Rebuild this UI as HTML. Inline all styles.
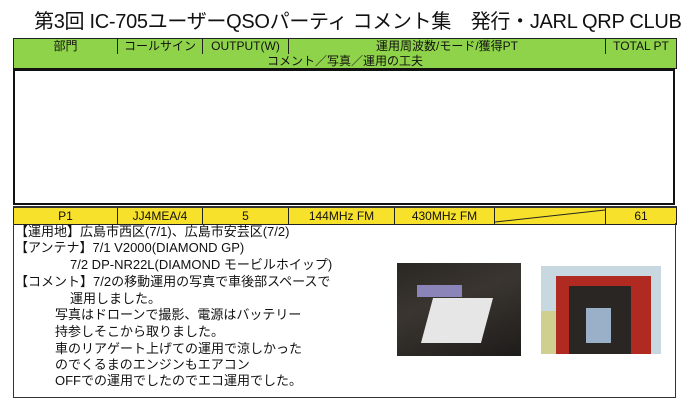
<!DOCTYPE html>
<html><head><meta charset="utf-8"><style>
body{margin:0;width:693px;height:400px;background:#fff;position:relative;overflow:hidden;font-family:"Liberation Sans","Noto Sans CJK JP",sans-serif;color:#111}
.a{position:absolute}
.t{position:absolute;white-space:nowrap;font-size:13px;line-height:16px}
.c{position:absolute;text-align:center;font-size:12px;line-height:14px;top:0}
.v{position:absolute;top:0;bottom:0;width:1px;background:#222}
</style></head><body>
<div class="t" style="left:34px;top:10px;font-size:20px;line-height:24px;letter-spacing:-0.3px">第3回 IC-705ユーザーQSOパーティ コメント集　発行・JARL QRP CLUB</div>
<div class="a" style="left:13px;top:38px;width:662px;height:15px;background:#8fd34a;border:1px solid #222">
 <div class="c" style="left:0;width:103px">部門</div><div class="v" style="left:103px"></div>
 <div class="c" style="left:104px;width:84px">コールサイン</div><div class="v" style="left:188px"></div>
 <div class="c" style="left:189px;width:85px">OUTPUT(W)</div><div class="v" style="left:274px"></div>
 <div class="c" style="left:275px;width:316px">運用周波数/モード/獲得PT</div><div class="v" style="left:591px"></div>
 <div class="c" style="left:592px;width:70px">TOTAL PT</div>
</div>
<div class="a" style="left:13px;top:54px;width:662px;height:14px;background:#8fd34a;border:1px solid #222;border-top:none">
 <div class="c" style="left:0;width:662px">コメント／写真／運用の工夫</div>
</div>
<div class="a" style="left:13px;top:68px;width:658px;height:132px;border:2px solid #111;border-top-width:3px"></div>
<div class="a" style="left:13px;top:206px;width:662px;height:16px;background:#f7e12a;border:1px solid #222;border-top:2px solid #333">
 <div class="c" style="left:0;width:103px;top:1px">P1</div><div class="v" style="left:103px"></div>
 <div class="c" style="left:104px;width:84px;top:1px">JJ4MEA/4</div><div class="v" style="left:188px"></div>
 <div class="c" style="left:189px;width:85px;top:1px">5</div><div class="v" style="left:274px"></div>
 <div class="c" style="left:275px;width:105px;top:1px">144MHz FM</div><div class="v" style="left:380px"></div>
 <div class="c" style="left:381px;width:99px;top:1px">430MHz FM</div><div class="v" style="left:480px"></div>
 <svg class="a" style="left:481px;top:0" width="110" height="16"><line x1="0" y1="14" x2="110" y2="2" stroke="#222" stroke-width="1"/></svg>
 <div class="v" style="left:591px"></div>
 <div class="c" style="left:592px;width:70px;top:1px">61</div>
</div>
<div class="a" style="left:13px;top:223px;width:661px;height:174px;border-left:1px solid #333;border-right:1px solid #333;border-bottom:1px solid #333"></div>
<div class="t" style="left:15px;top:224px">【運用地】広島市西区(7/1)、広島市安芸区(7/2)</div>
<div class="t" style="left:15px;top:240px">【アンテナ】7/1 V2000(DIAMOND GP)</div>
<div class="t" style="left:70px;top:257px">7/2 DP-NR22L(DIAMOND モービルホイップ)</div>
<div class="t" style="left:15px;top:274px">【コメント】7/2の移動運用の写真で車後部スペースで</div>
<div class="t" style="left:70px;top:291px">運用しました。</div>
<div class="t" style="left:55px;top:307px">写真はドローンで撮影、電源はバッテリー</div>
<div class="t" style="left:55px;top:324px">持参しそこから取りました。</div>
<div class="t" style="left:55px;top:341px">車のリアゲート上げての運用で涼しかった</div>
<div class="t" style="left:55px;top:357px">のでくるまのエンジンもエアコン</div>
<div class="t" style="left:55px;top:373px">OFFでの運用でしたのでエコ運用でした。</div>
<div class="a" style="left:397px;top:263px;width:124px;height:93px;background:linear-gradient(160deg,#2a2622 0%,#3a3530 40%,#1e1c1a 100%)">
 <div class="a" style="left:30px;top:35px;width:60px;height:45px;background:#e6e6e6;transform:skewX(-15deg)"></div>
 <div class="a" style="left:20px;top:22px;width:45px;height:12px;background:#8a84b8"></div>
</div>
<div class="a" style="left:541px;top:266px;width:120px;height:88px;background:#c8d8e0">
 <div class="a" style="left:15px;top:10px;width:95px;height:78px;background:#b02a22"></div>
 <div class="a" style="left:28px;top:20px;width:62px;height:68px;background:#2a2624"></div>
 <div class="a" style="left:45px;top:42px;width:25px;height:35px;background:#9ab0c8"></div>
 <div class="a" style="left:0;top:45px;width:15px;height:43px;background:#cfcf90"></div>
</div>
</body></html>
